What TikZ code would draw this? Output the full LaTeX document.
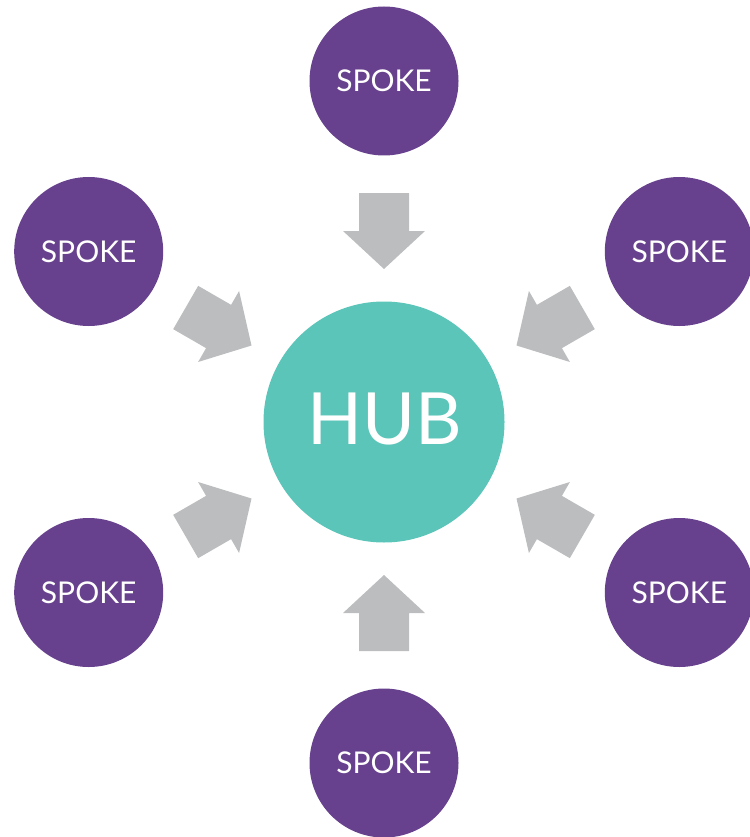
\documentclass[tikz,border=0pt]{standalone}
\usepackage{fontspec}
\setmainfont{Lato}
\usetikzlibrary{calc}
\definecolor{spokepurple}{HTML}{67418D}
\definecolor{hubteal}{HTML}{5AC5B8}
\definecolor{arrowgray}{HTML}{BCBDBF}
\tikzset{
  hubnode/.style={circle, fill=hubteal, minimum size=241pt, inner sep=0pt, text=white, font=\fontsize{72}{72}\selectfont},
  spokenode/.style={circle, fill=spokepurple, minimum size=149pt, inner sep=0pt, text=white, font=\fontsize{30}{30}\selectfont},
  blockarrow/.style={fill=arrowgray, draw=none}
}
\begin{document}
\begin{tikzpicture}[x=1pt,y=1pt]
\useasboundingbox (0,0) rectangle (749,-837);
\node[hubnode] (hub) at (384,-422) {};
\node[text=white, font=\fontsize{72}{72}\selectfont, inner sep=0pt] (hubtext) at (385,-419) {HUB};
\foreach \a/\n in {90/top,150/ul,210/ll,270/bot,330/lr,30/ur}{
  \node[spokenode] (\n) at ($(hub.center)+(\a:341)$) {SPOKE};
  \begin{scope}[shift={(hub.center)}, rotate=\a]
    \fill[blockarrow] (229,25) -- (191,25) -- (191,41) -- (153,0) -- (191,-41) -- (191,-25) -- (229,-25) -- cycle;
  \end{scope}
}
\end{tikzpicture}
\end{document}
